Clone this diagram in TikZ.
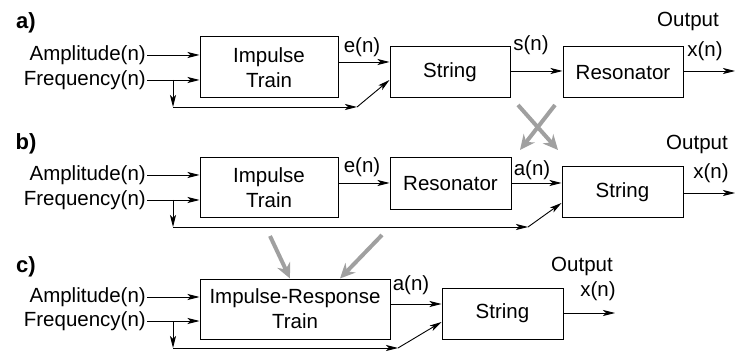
\documentclass[tikz,border=0pt]{standalone}
\usepackage{fontspec}
\setmainfont{Liberation Sans}
\usepackage{tikz}
\usetikzlibrary{arrows.meta}
\definecolor{swapgray}{HTML}{A0A0A0}
\newcommand\lbl{\fontsize{20.5}{25}\selectfont}
\newcommand\tagfnt{\fontsize{22}{26}\selectfont\bfseries}
\tikzset{
  blk/.style={draw, line width=1pt, minimum height=51pt, align=center, font=\lbl},
  arr/.style={-{Stealth[length=12pt,width=6pt,inset=3pt]}, line width=0.9pt},
  swap/.style={draw=swapgray, line width=4pt, -{Stealth[length=15pt,width=14pt,inset=5pt]}},
  lab/.style={font=\lbl, inner sep=1pt},
  tag/.style={font=\tagfnt, inner sep=0pt},
}

\begin{document}
\begin{tikzpicture}[x=1pt,y=-1pt]
  \useasboundingbox (0,0) rectangle (735,352);

  % a) impulse train, string, resonator
  \node[tag] (tag_a) at (26,23) {a)};
  \node[blk, minimum width=138pt, minimum height=61pt] (it_a) at (269,67.5) {Impulse\\Train};
  \node[blk, minimum width=120pt] (str_a) at (450,72.5) {String};
  \node[blk, minimum width=120pt] (res_a) at (623,72.5) {Resonator};
  \node[lab, anchor=east] (amp_a) at (147,55) {Amplitude(n)};
  \node[lab, anchor=east] (frq_a) at (147,80) {Frequency(n)};
  \coordinate (lo_a) at (173,107);
  \coordinate (kn_a) at (357,107);
  \coordinate (out_a) at (735,71);
  \draw[arr] (amp_a.east) -- (amp_a.east -| it_a.west);
  \draw[arr] (frq_a.east) -- (frq_a.east -| it_a.west);
  \draw[arr] (frq_a.east -| lo_a) -- (lo_a);
  \draw[arr] (lo_a) -- (kn_a);
  \draw[arr] (kn_a) -- (str_a.west |- 0,80);
  \draw[arr] (it_a.east |- 0,62) -- (str_a.west |- 0,62);
  \draw[arr] (str_a.east |- 0,71) -- (res_a.west |- 0,71);
  \draw[arr] (res_a.east |- out_a) -- (out_a);
  \node[lab] (e_a) at (362,47) {e(n)};
  \node[lab] (s_a) at (531,45) {s(n)};
  \node[lab] (o_a) at (688,21) {Output};
  \node[lab] (x_a) at (705,51) {x(n)};

  % swap of string and resonator
  \coordinate (sw1) at (518,105);
  \coordinate (sw2) at (558,150);
  \coordinate (sw3) at (555,105);
  \coordinate (sw4) at (520,150);
  \draw[swap] (sw1) -- (sw2);
  \draw[swap] (sw3) -- (sw4);

  % b) impulse train, resonator, string
  \node[tag] (tag_b) at (26,144) {b)};
  \node[blk, minimum width=138pt, minimum height=60pt] (it_b) at (269,188) {Impulse\\Train};
  \node[blk, minimum width=121pt, minimum height=52pt] (res_b) at (450.5,184) {Resonator};
  \node[blk, minimum width=121pt] (str_b) at (622.5,192.5) {String};
  \node[lab, anchor=east] (amp_b) at (147,175) {Amplitude(n)};
  \node[lab, anchor=east] (frq_b) at (147,200) {Frequency(n)};
  \coordinate (lo_b) at (173,227);
  \coordinate (kn_b) at (528,227);
  \coordinate (out_b) at (735,193);
  \draw[arr] (amp_b.east) -- (amp_b.east -| it_b.west);
  \draw[arr] (frq_b.east) -- (frq_b.east -| it_b.west);
  \draw[arr] (frq_b.east -| lo_b) -- (lo_b);
  \draw[arr] (lo_b) -- (kn_b);
  \draw[arr] (kn_b) -- (str_b.west |- 0,203);
  \draw[arr] (it_b.east |- 0,183) -- (res_b.west |- 0,183);
  \draw[arr] (res_b.east |- 0,183) -- (str_b.west |- 0,183);
  \draw[arr] (str_b.east |- out_b) -- (out_b);
  \node[lab] (e_b) at (362,167) {e(n)};
  \node[lab] (a_b) at (532,170) {a(n)};
  \node[lab] (o_b) at (697,144) {Output};
  \node[lab] (x_b) at (711,173) {x(n)};

  % c) impulse-response train, string
  \node[tag] (tag_c) at (26,267) {c)};
  \node[blk, minimum width=190pt, minimum height=60pt] (irt_c) at (295,309) {Impulse-Response\\Train};
  \node[blk, minimum width=121pt] (str_c) at (502.5,313.5) {String};
  \node[lab, anchor=east] (amp_c) at (147,297) {Amplitude(n)};
  \node[lab, anchor=east] (frq_c) at (147,321) {Frequency(n)};
  \coordinate (lo_c) at (173,348);
  \coordinate (kn_c) at (398,348);
  \coordinate (out_c) at (615,313);
  \draw[arr] (amp_c.east) -- (amp_c.east -| irt_c.west);
  \draw[arr] (frq_c.east) -- (frq_c.east -| irt_c.west);
  \draw[arr] (frq_c.east -| lo_c) -- (lo_c);
  \draw[arr] (lo_c) -- (kn_c);
  \draw[arr] (kn_c) -- (str_c.west |- 0,322);
  \draw[arr] (irt_c.east |- 0,304) -- (str_c.west |- 0,304);
  \draw[arr] (str_c.east |- out_c) -- (out_c);
  \node[lab] (a_c) at (411,285) {a(n)};
  \node[lab] (o_c) at (582,266) {Output};
  \node[lab] (x_c) at (598,291) {x(n)};

  % merging the two blocks
  \coordinate (mg1) at (270,236);
  \coordinate (mg2) at (382,235);
  \draw[swap] (mg1) -- (irt_c.north -| 290,0);
  \draw[swap] (mg2) -- (irt_c.north -| 340,0);
\end{tikzpicture}
\end{document}
